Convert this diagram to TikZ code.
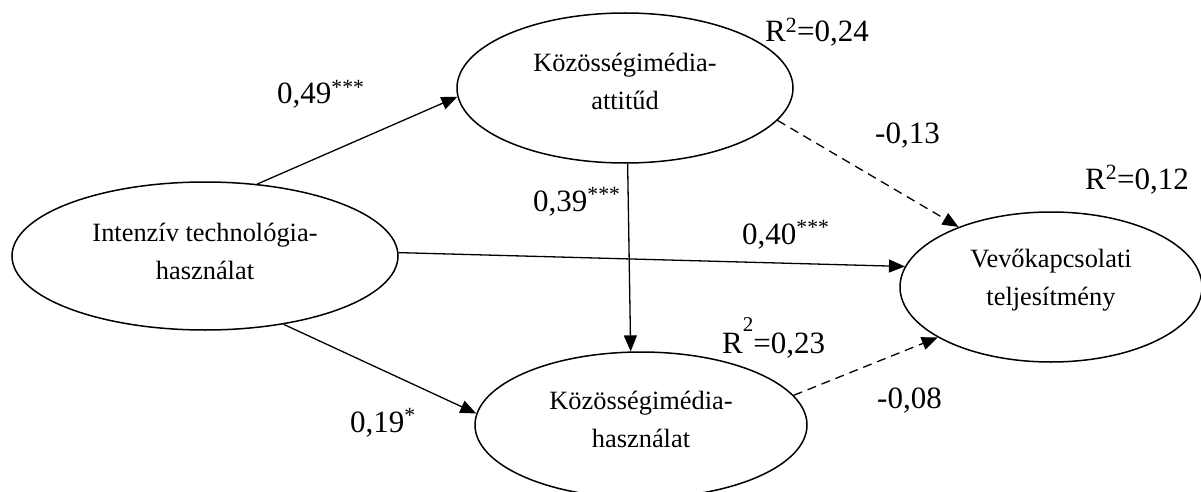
\documentclass[tikz,border=0pt]{standalone}
\usepackage{fontspec}
\setmainfont{Liberation Serif}
\usetikzlibrary{shapes.geometric,arrows.meta}
\begin{document}
\begin{tikzpicture}[x=1pt,y=-1pt,
  ell/.style={draw, line width=1.5pt, ellipse, inner sep=0pt},
  etext/.style={align=center, inner sep=0pt, font=\fontsize{26.4}{38}\selectfont},
  conn/.style={line width=1.3pt, -{Triangle[length=16pt,width=13pt]}},
  dsh/.style={conn, dash pattern=on 9pt off 6pt},
  lab/.style={anchor=base west, inner sep=0pt, font=\fontsize{31}{37}\selectfont}]
\useasboundingbox (0,0) rectangle (1201,492);
\node[ell, minimum width=386pt, minimum height=148pt] (itech) at (205,256) {};
\node[ell, minimum width=336pt, minimum height=150pt] (att) at (625,88) {};
\node[ell, minimum width=332pt, minimum height=146pt] (use) at (641,425) {};
\node[ell, minimum width=302pt, minimum height=150pt] (perf) at (1051,287) {};
\node[etext] (itecht) at (205,251) {Intenzív technológia-\\használat};
\node[etext] (attt) at (625,81) {Közösségimédia-\\attitűd};
\node[etext] (uset) at (641,419) {Közösségimédia-\\használat};
\node[etext] (perft) at (1051,280) {Vevőkapcsolati\\teljesítmény};

\draw[conn] (itech.54) -- (att.183);
\draw[conn] (itech.-41.5) -- (use.176.5);
\draw[conn] (itech.1.2) -- (perf.172.4);
\draw[conn] (att.-88) -- (use.98.5);
\draw[dsh] (att.-12.5) -- (perf.147.7);
\draw[dsh] (use.11.4) -- (perf.204);

\node[lab] (l49) at (277,104) {0,49\textsuperscript{***}};
\node[lab] (l39) at (533,211) {0,39\textsuperscript{***}};
\node[lab] (l40) at (742,244) {0,40\textsuperscript{***}};
\node[lab] (l19) at (350,432) {0,19\textsuperscript{*}};
\node[lab] (l13) at (875,143) {-0,13};
\node[lab] (l08) at (877,408) {-0,08};
\node[lab] (r24) at (765,42) {R\textsuperscript{2}=0,24};
\node[lab] (r12) at (1085,189) {R\textsuperscript{2}=0,12};
\node[lab] (r23) at (722,353) {R\raisebox{22pt}{\fontsize{21}{21}\selectfont 2}=0,23};
\end{tikzpicture}
\end{document}
